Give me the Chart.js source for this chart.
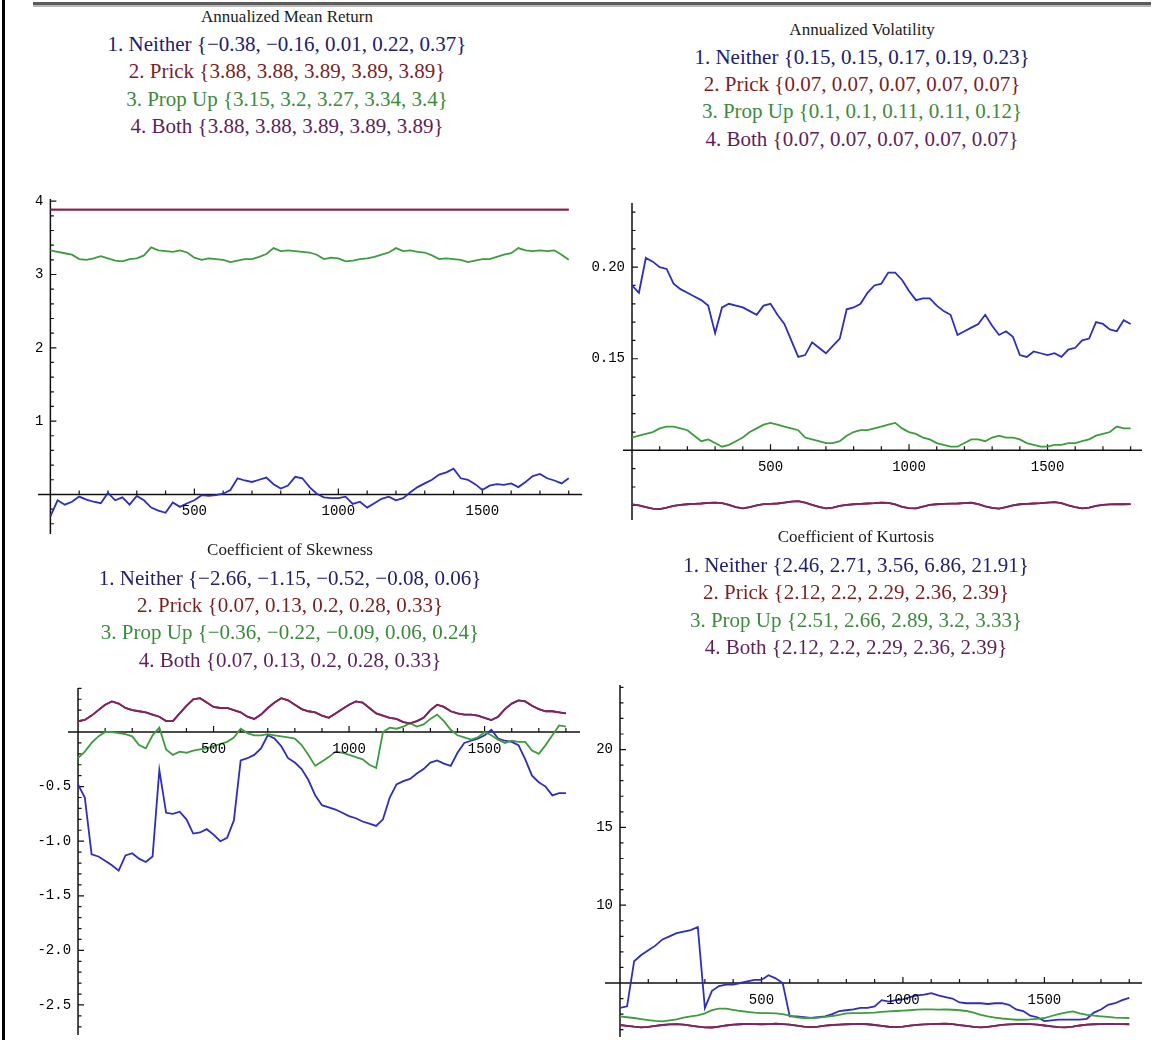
<!DOCTYPE html>
<html>
<head>
<meta charset="utf-8">
<script src="https://cdn.jsdelivr.net/npm/chart.js@4.4.0/dist/chart.umd.min.js"></script>
<style>
  html, body { margin: 0; padding: 0; background: #fff; }
  body { width: 1158px; height: 1040px; position: relative; overflow: hidden; }
  .frame { position: absolute; left: 2px; top: 0; width: 3px; height: 1040px; background: #000; }
  .rule { position: absolute; left: 33px; top: 2px; width: 1118px; height: 3px; background: #5c5c5c; border-bottom: 2px solid #b8b8b8; }
  .txt { position: absolute; width: 600px; text-align: center; white-space: nowrap; line-height: 24px;
         font-family: "Liberation Serif", "Times New Roman", serif; }
  .ttl { font-size: 17px; color: #1b1b1b; }
  .lg { font-size: 21px; }
  canvas { position: absolute; }
</style>
</head>
<body>
<div class="frame"></div>
<div class="rule"></div>
<script>
// sample positions (time step)
const steps = [
  0, 25, 50, 75, 100, 125, 150, 175,
  200, 225, 250, 275, 300, 325, 350, 375,
  400, 425, 450, 475, 500, 525, 550, 575,
  600, 625, 650, 675, 700, 725, 750, 775,
  800, 825, 850, 875, 900, 925, 950, 975,
  1000, 1025, 1050, 1075, 1100, 1125, 1150, 1175,
  1200, 1225, 1250, 1275, 1300, 1325, 1350, 1375,
  1400, 1425, 1450, 1475, 1500, 1525, 1550, 1575,
  1600, 1625, 1650, 1675, 1700, 1725, 1750, 1775,
  1800
];
const flatSteps = [0, 1800];

const seriesNames = ['Neither', 'Prick', 'Prop Up', 'Both'];

// --- Annualized Mean Return
const meanNeither = [
  -0.30, -0.08, -0.14, -0.10, -0.03, -0.07, -0.10, -0.12,
  0.02, -0.08, -0.04, -0.14, -0.02, -0.08, -0.18, -0.22,
  -0.25, -0.11, -0.17, -0.12, -0.08, -0.01, -0.02, -0.01,
  0.01, 0.06, 0.22, 0.19, 0.17, 0.20, 0.23, 0.14,
  0.08, 0.12, 0.24, 0.22, 0.10, 0.01, -0.04, -0.05,
  -0.05, -0.03, -0.13, -0.10, -0.18, -0.12, -0.06, -0.03,
  -0.08, -0.05, 0.03, 0.10, 0.15, 0.20, 0.27, 0.30,
  0.35, 0.22, 0.20, 0.14, 0.06, 0.12, 0.14, 0.13,
  0.15, 0.10, 0.17, 0.25, 0.28, 0.22, 0.19, 0.15,
  0.22
];
const meanPrick = [3.885, 3.885];
const meanPropUp = [
  3.33, 3.31, 3.29, 3.27, 3.21, 3.20, 3.22, 3.25,
  3.22, 3.19, 3.18, 3.21, 3.22, 3.26, 3.37, 3.33,
  3.32, 3.31, 3.33, 3.30, 3.23, 3.20, 3.22, 3.21,
  3.20, 3.17, 3.19, 3.21, 3.21, 3.24, 3.28, 3.36,
  3.32, 3.33, 3.32, 3.31, 3.30, 3.27, 3.21, 3.23,
  3.22, 3.18, 3.19, 3.21, 3.22, 3.24, 3.27, 3.30,
  3.36, 3.32, 3.33, 3.31, 3.30, 3.26, 3.21, 3.22,
  3.21, 3.20, 3.17, 3.19, 3.21, 3.21, 3.24, 3.27,
  3.29, 3.36, 3.33, 3.32, 3.33, 3.32, 3.33, 3.27,
  3.20
];
const meanBoth = [3.885, 3.885];
const meanLegend = [
  '1. Neither {\u22120.38, \u22120.16, 0.01, 0.22, 0.37}',
  '2. Prick {3.88, 3.88, 3.89, 3.89, 3.89}',
  '3. Prop Up {3.15, 3.2, 3.27, 3.34, 3.4}',
  '4. Both {3.88, 3.88, 3.89, 3.89, 3.89}'
];
const meanYTicks = [1, 2, 3, 4];
const meanYLabels = ['1', '2', '3', '4'];

// --- Annualized Volatility
const volNeither = [
  0.190, 0.186, 0.205, 0.203, 0.200, 0.199, 0.191, 0.188,
  0.186, 0.184, 0.182, 0.179, 0.164, 0.178, 0.180, 0.179,
  0.178, 0.176, 0.174, 0.179, 0.180, 0.174, 0.169, 0.160,
  0.151, 0.152, 0.159, 0.156, 0.153, 0.157, 0.161, 0.177,
  0.178, 0.180, 0.186, 0.190, 0.191, 0.197, 0.197, 0.193,
  0.187, 0.182, 0.183, 0.183, 0.179, 0.176, 0.174, 0.163,
  0.165, 0.167, 0.169, 0.174, 0.168, 0.163, 0.165, 0.162,
  0.152, 0.151, 0.154, 0.153, 0.152, 0.153, 0.151, 0.155,
  0.156, 0.160, 0.161, 0.170, 0.169, 0.166, 0.165, 0.171,
  0.169
];
const volPrick = [
  0.0705, 0.0700, 0.0690, 0.0682, 0.0680, 0.0688, 0.0697, 0.0703,
  0.0706, 0.0708, 0.0710, 0.0713, 0.0715, 0.0712, 0.0702, 0.0690,
  0.0683, 0.0690, 0.0700, 0.0707, 0.0708, 0.0710, 0.0715, 0.0720,
  0.0723, 0.0715, 0.0703, 0.0692, 0.0683, 0.0688, 0.0697, 0.0703,
  0.0706, 0.0708, 0.0710, 0.0712, 0.0715, 0.0713, 0.0705, 0.0692,
  0.0685, 0.0683, 0.0693, 0.0702, 0.0706, 0.0708, 0.0709, 0.0710,
  0.0712, 0.0714, 0.0706, 0.0695, 0.0686, 0.0682, 0.0690, 0.0700,
  0.0706, 0.0708, 0.0710, 0.0712, 0.0715, 0.0718, 0.0712, 0.0700,
  0.0690, 0.0683, 0.0688, 0.0697, 0.0703, 0.0705, 0.0706, 0.0706,
  0.0707
];
const volPropUp = [
  0.107, 0.108, 0.109, 0.110, 0.112, 0.113, 0.113, 0.112,
  0.111, 0.108, 0.105, 0.106, 0.104, 0.102, 0.103, 0.105,
  0.107, 0.110, 0.112, 0.114, 0.115, 0.114, 0.113, 0.112,
  0.111, 0.107, 0.106, 0.105, 0.104, 0.104, 0.105, 0.108,
  0.110, 0.111, 0.111, 0.112, 0.113, 0.114, 0.115, 0.112,
  0.110, 0.109, 0.107, 0.106, 0.104, 0.103, 0.102, 0.102,
  0.104, 0.106, 0.106, 0.105, 0.107, 0.108, 0.107, 0.107,
  0.106, 0.104, 0.103, 0.102, 0.102, 0.103, 0.103, 0.104,
  0.104, 0.105, 0.106, 0.108, 0.109, 0.110, 0.113, 0.112,
  0.112
];
const volBoth = volPrick;
const volLegend = [
  '1. Neither {0.15, 0.15, 0.17, 0.19, 0.23}',
  '2. Prick {0.07, 0.07, 0.07, 0.07, 0.07}',
  '3. Prop Up {0.1, 0.1, 0.11, 0.11, 0.12}',
  '4. Both {0.07, 0.07, 0.07, 0.07, 0.07}'
];
const volYTicks = [0.15, 0.20];
const volYLabels = ['0.15', '0.20'];

// --- Coefficient of Skewness
const skewNeither = [
  -0.48, -0.60, -1.12, -1.14, -1.18, -1.22, -1.27, -1.13,
  -1.11, -1.16, -1.19, -1.14, -0.35, -0.74, -0.75, -0.73,
  -0.80, -0.93, -0.92, -0.89, -0.94, -1.00, -0.97, -0.81,
  -0.26, -0.24, -0.21, -0.15, -0.03, -0.06, -0.13, -0.24,
  -0.28, -0.34, -0.44, -0.58, -0.67, -0.69, -0.71, -0.74,
  -0.77, -0.79, -0.82, -0.84, -0.86, -0.80, -0.60, -0.48,
  -0.45, -0.43, -0.38, -0.34, -0.28, -0.26, -0.29, -0.31,
  -0.19, -0.10, -0.08, -0.06, -0.03, 0.02, -0.06, -0.08,
  -0.09, -0.12, -0.25, -0.40, -0.46, -0.50, -0.58, -0.56,
  -0.56
];
const skewPrick = [
  0.10, 0.11, 0.15, 0.20, 0.25, 0.28, 0.26, 0.22,
  0.20, 0.19, 0.18, 0.16, 0.14, 0.10, 0.10, 0.17,
  0.24, 0.30, 0.31, 0.27, 0.23, 0.22, 0.22, 0.20,
  0.18, 0.14, 0.12, 0.16, 0.22, 0.27, 0.31, 0.29,
  0.25, 0.21, 0.19, 0.18, 0.15, 0.13, 0.17, 0.21,
  0.25, 0.28, 0.27, 0.22, 0.17, 0.15, 0.13, 0.12,
  0.09, 0.08, 0.10, 0.13, 0.20, 0.25, 0.23, 0.19,
  0.17, 0.16, 0.16, 0.15, 0.13, 0.11, 0.14, 0.21,
  0.26, 0.29, 0.28, 0.24, 0.21, 0.19, 0.19, 0.18,
  0.17
];
const skewPropUp = [
  -0.24, -0.18, -0.10, -0.04, 0.00, 0.00, -0.01, -0.02,
  -0.04, -0.12, -0.15, -0.03, 0.04, -0.16, -0.21, -0.18,
  -0.19, -0.17, -0.16, -0.15, -0.13, -0.11, -0.09, -0.05,
  0.03, -0.01, -0.03, -0.03, -0.02, -0.03, -0.04, -0.05,
  -0.06, -0.12, -0.21, -0.31, -0.27, -0.23, -0.18, -0.19,
  -0.21, -0.23, -0.25, -0.30, -0.33, 0.00, 0.04, 0.03,
  0.05, 0.08, 0.05, 0.07, 0.12, 0.16, 0.10, 0.02,
  -0.03, -0.05, -0.07, -0.05, 0.00, -0.03, -0.07, -0.10,
  -0.08, -0.09, -0.09, -0.17, -0.20, -0.12, -0.03, 0.06,
  0.05
];
const skewBoth = skewPrick;
const skewLegend = [
  '1. Neither {\u22122.66, \u22121.15, \u22120.52, \u22120.08, 0.06}',
  '2. Prick {0.07, 0.13, 0.2, 0.28, 0.33}',
  '3. Prop Up {\u22120.36, \u22120.22, \u22120.09, 0.06, 0.24}',
  '4. Both {0.07, 0.13, 0.2, 0.28, 0.33}'
];
const skewYTicks = [-0.5, -1.0, -1.5, -2.0, -2.5];
const skewYLabels = ['-0.5', '-1.0', '-1.5', '-2.0', '-2.5'];

// --- Coefficient of Kurtosis
const kurtNeither = [
  3.4, 3.5, 6.4, 6.8, 7.1, 7.4, 7.8, 8.0,
  8.2, 8.3, 8.4, 8.6, 3.4, 4.5, 4.8, 4.9,
  4.9, 5.0, 5.1, 5.2, 5.2, 5.5, 5.3, 5.0,
  2.85, 2.85, 2.8, 2.75, 2.8, 2.85, 3.0, 3.2,
  3.25, 3.3, 3.4, 3.4, 3.5, 3.9, 3.8, 3.9,
  3.95, 4.1, 4.2, 4.25, 4.35, 4.2, 4.1, 4.0,
  3.75, 3.7, 3.7, 3.7, 3.65, 3.7, 3.7, 3.6,
  3.3, 3.2, 2.9, 2.8, 2.55, 2.6, 2.65, 2.65,
  2.65, 2.65, 2.7, 3.1, 3.3, 3.6, 3.7, 3.9,
  4.05
];
const kurtPrick = [
  2.30, 2.25, 2.19, 2.15, 2.18, 2.24, 2.30, 2.34,
  2.36, 2.33, 2.26, 2.20, 2.15, 2.14, 2.20, 2.27,
  2.32, 2.35, 2.37, 2.36, 2.35, 2.36, 2.38, 2.36,
  2.32, 2.26, 2.20, 2.17, 2.20, 2.26, 2.30, 2.33,
  2.35, 2.36, 2.37, 2.35, 2.30, 2.24, 2.19, 2.16,
  2.20, 2.26, 2.31, 2.34, 2.36, 2.37, 2.38, 2.36,
  2.30, 2.24, 2.18, 2.15, 2.18, 2.25, 2.31, 2.34,
  2.36, 2.37, 2.36, 2.33, 2.27, 2.21, 2.16, 2.15,
  2.20, 2.27, 2.32, 2.35, 2.36, 2.37, 2.36, 2.36,
  2.35
];
const kurtPropUp = [
  2.86, 2.80, 2.75, 2.68, 2.62, 2.56, 2.54, 2.60,
  2.66, 2.78, 2.86, 2.92, 3.05, 3.25, 3.35, 3.35,
  3.28, 3.20, 3.15, 3.10, 3.07, 3.07, 3.05, 3.00,
  2.90, 2.80, 2.75, 2.75, 2.78, 2.82, 2.88, 2.95,
  3.05, 3.07, 3.07, 3.08, 3.10, 3.15, 3.18, 3.20,
  3.22, 3.25, 3.29, 3.30, 3.30, 3.29, 3.30, 3.28,
  3.25, 3.20, 3.10, 2.95, 2.85, 2.78, 2.72, 2.68,
  2.64, 2.64, 2.66, 2.70, 2.75, 2.88, 3.00, 3.10,
  3.18, 3.05, 2.95, 2.90, 2.86, 2.82, 2.78, 2.76,
  2.75
];
const kurtBoth = kurtPrick;
const kurtLegend = [
  '1. Neither {2.46, 2.71, 3.56, 6.86, 21.91}',
  '2. Prick {2.12, 2.2, 2.29, 2.36, 2.39}',
  '3. Prop Up {2.51, 2.66, 2.89, 3.2, 3.33}',
  '4. Both {2.12, 2.2, 2.29, 2.36, 2.39}'
];
const kurtYTicks = [10, 15, 20];
const kurtYLabels = ['10', '15', '20'];

const xTicks = [500, 1000, 1500];
const xLabels = ['500', '1000', '1500'];

const lineColors = ['#2d2dbf', '#8c1f2a', '#3d9c3d', '#7b2566'];
const textColors = ['#20206e', '#7a1f1f', '#3b8b3b', '#5c1f5c'];
const PAD = 40;

const panels = [
  { title: 'Annualized Mean Return', cx: 287, textY: [17, 44, 71, 99, 126], legend: meanLegend,
    area: [38, 199, 582, 534], xr: [-43, 1846], yr: [-0.54, 4.03], originY: 0,
    yTicks: meanYTicks, yLabels: meanYLabels, yMinor: 0.2,
    series: [[steps, meanNeither], [flatSteps, meanPrick], [steps, meanPropUp], [flatSteps, meanBoth]] },
  { title: 'Annualized Volatility', cx: 862, textY: [30, 57, 84, 111, 139], legend: volLegend,
    area: [623, 203, 1142, 520], xr: [-32.5, 1841], yr: [0.062, 0.235], originY: 0.10,
    yTicks: volYTicks, yLabels: volYLabels, yMinor: 0.01,
    series: [[steps, volNeither], [steps, volPrick], [steps, volPropUp], [steps, volBoth]] },
  { title: 'Coefficient of Skewness', cx: 290, textY: [550, 578, 605, 632, 660], legend: skewLegend,
    area: [68, 688, 580, 1035], xr: [-37, 1852], yr: [-2.775, 0.403], originY: 0,
    yTicks: skewYTicks, yLabels: skewYLabels, yMinor: 0.1,
    series: [[steps, skewNeither], [steps, skewPrick], [steps, skewPropUp], [steps, skewBoth]] },
  { title: 'Coefficient of Kurtosis', cx: 856, textY: [537, 565, 592, 620, 647], legend: kurtLegend,
    area: [605, 685, 1142, 1037], xr: [-53, 1845], yr: [1.53, 24.15], originY: 5,
    yTicks: kurtYTicks, yLabels: kurtYLabels, yMinor: 1,
    series: [[steps, kurtNeither], [steps, kurtPrick], [steps, kurtPropUp], [steps, kurtBoth]] }
];

// Mathematica style axes: cross at the origin, ticks pointing inward
const mmaAxes = {
  id: 'mmaAxes',
  beforeDatasetsDraw(chart, args, o) {
    const {ctx, scales: {x, y}} = chart;
    const ox = x.getPixelForValue(0), oy = y.getPixelForValue(o.originY);
    ctx.save();
    ctx.strokeStyle = '#111';
    ctx.lineWidth = 1.5;
    ctx.beginPath();
    ctx.moveTo(x.left, oy); ctx.lineTo(x.right, oy);
    ctx.moveTo(ox, y.top); ctx.lineTo(ox, y.bottom);
    ctx.stroke();
    ctx.lineWidth = 1.2;
    ctx.beginPath();
    // x ticks every 100, long ones every 500
    for (let v = 100; v <= x.max; v += 100) {
      const px = x.getPixelForValue(v);
      const len = v % 500 === 0 ? 6 : 4;
      ctx.moveTo(px, oy); ctx.lineTo(px, oy - len);
    }
    // y ticks
    const st = o.yMinor;
    for (let k = Math.ceil(y.min / st); k <= Math.floor(y.max / st); k++) {
      const v = k * st;
      if (Math.abs(v - o.originY) < st / 2) continue;
      const py = y.getPixelForValue(v);
      const major = Math.abs(Math.round(k / 5) * 5 - k) < 1e-6;
      ctx.moveTo(ox, py); ctx.lineTo(ox + (major ? 6 : 3.5), py);
    }
    ctx.stroke();
    ctx.restore();
  },
  afterDatasetsDraw(chart, args, o) {
    const {ctx, scales: {x, y}} = chart;
    const ox = x.getPixelForValue(0), oy = y.getPixelForValue(o.originY);
    ctx.save();
    ctx.fillStyle = '#000';
    ctx.font = '14px "Liberation Mono", "DejaVu Sans Mono", monospace';
    ctx.textAlign = 'center';
    ctx.textBaseline = 'middle';
    xTicks.forEach((v, i) => ctx.fillText(xLabels[i], x.getPixelForValue(v), oy + 17));
    ctx.textAlign = 'right';
    o.yTicks.forEach((v, i) => ctx.fillText(o.yLabels[i], ox - 7, y.getPixelForValue(v)));
    ctx.restore();
  }
};

function addText(str, cls, cx, cy, color) {
  const d = document.createElement('div');
  d.className = 'txt ' + cls;
  d.textContent = str;
  d.style.left = (cx - 300) + 'px';
  d.style.top = (cy - 12) + 'px';
  if (color) d.style.color = color;
  document.body.appendChild(d);
}

panels.forEach(p => {
  addText(p.title, 'ttl', p.cx, p.textY[0]);
  p.legend.forEach((s, i) => addText(s, 'lg', p.cx, p.textY[i + 1], textColors[i]));

  const [L, T, R, B] = p.area;
  const cv = document.createElement('canvas');
  cv.width = R - L + 2 * PAD;
  cv.height = B - T + 2 * PAD;
  cv.style.left = (L - PAD) + 'px';
  cv.style.top = (T - PAD) + 'px';
  document.body.appendChild(cv);

  // first dataset is drawn on top in Chart.js, so list them in reverse
  const datasets = p.series.map(([xs, ys], i) => ({
    label: seriesNames[i],
    data: xs.map((xv, j) => ({x: xv, y: ys[j]})),
    borderColor: lineColors[i],
    borderWidth: 1.8,
    pointRadius: 0,
    tension: 0,
    fill: false
  })).reverse();

  new Chart(cv, {
    type: 'line',
    data: { datasets },
    options: {
      responsive: false,
      animation: false,
      devicePixelRatio: 1,
      layout: { padding: PAD },
      scales: {
        x: { type: 'linear', min: p.xr[0], max: p.xr[1], display: false },
        y: { type: 'linear', min: p.yr[0], max: p.yr[1], display: false }
      },
      plugins: {
        legend: { display: false },
        tooltip: { enabled: false },
        mmaAxes: { originY: p.originY, yTicks: p.yTicks, yLabels: p.yLabels, yMinor: p.yMinor }
      }
    },
    plugins: [mmaAxes]
  });
});
</script>
</body>
</html>
